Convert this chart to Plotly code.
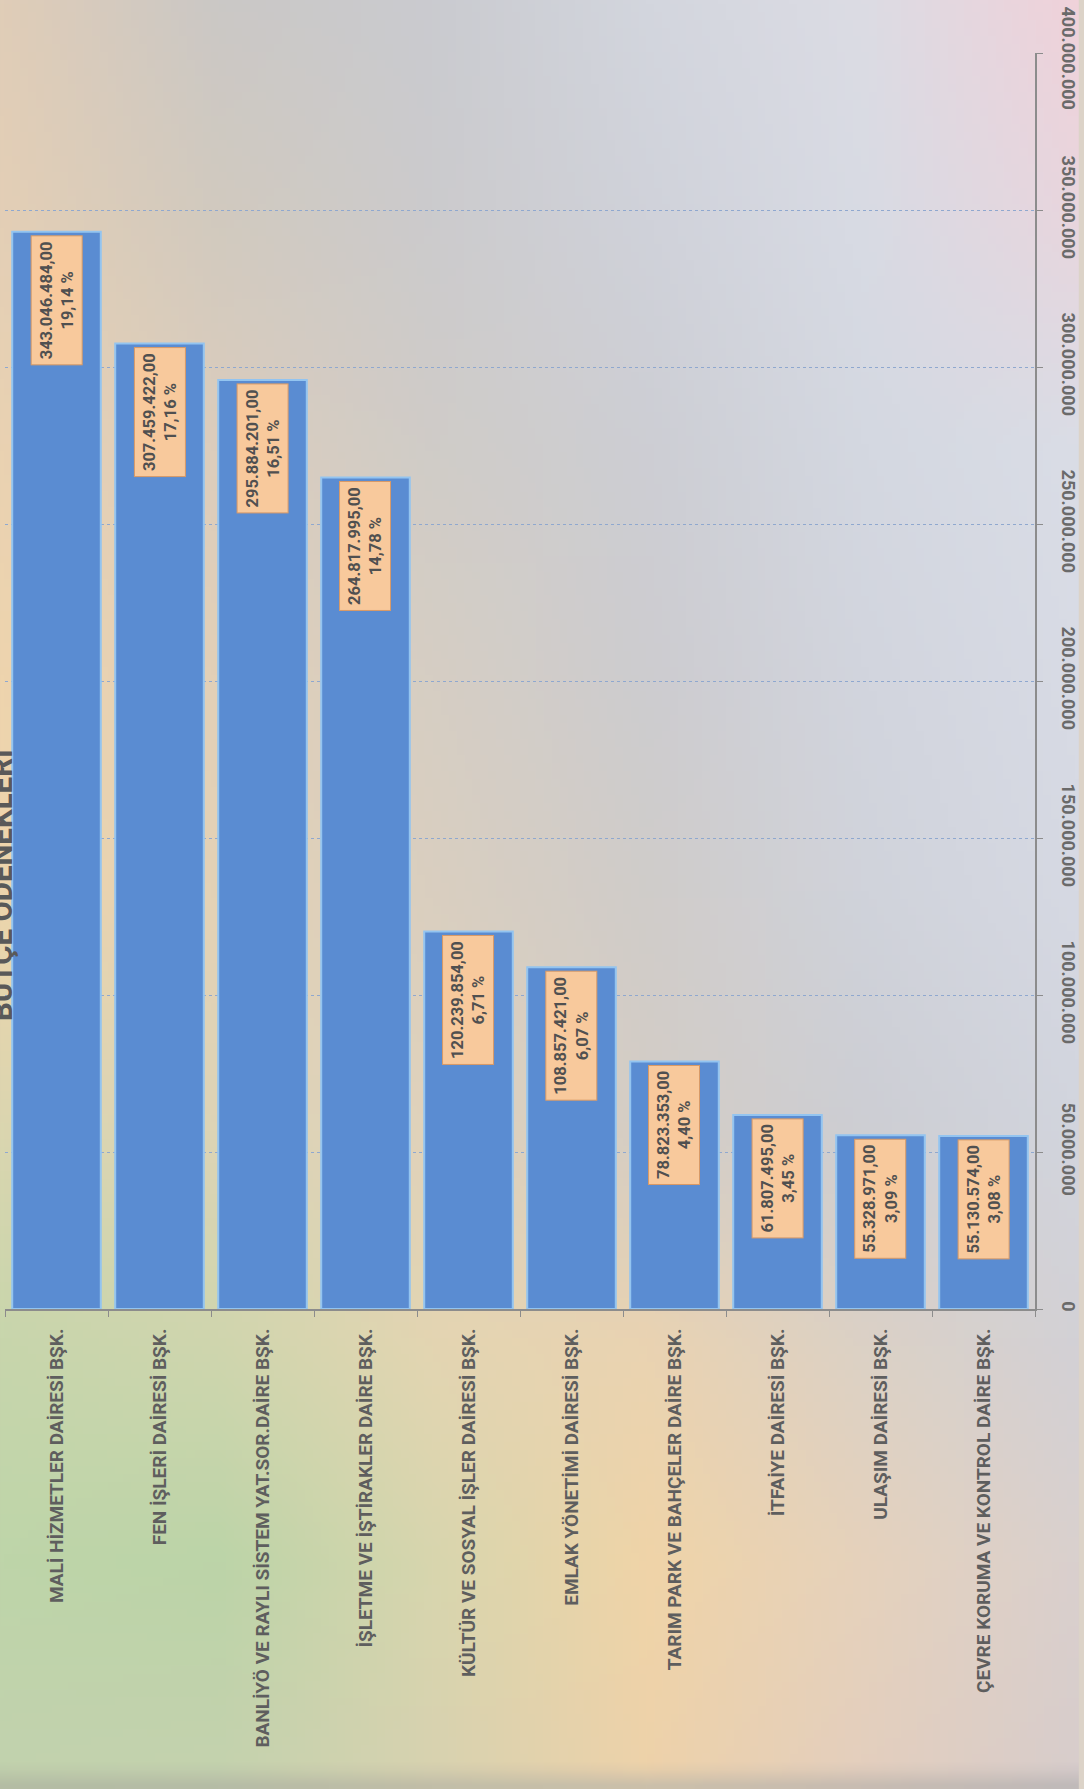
import base64, struct, zlib
import numpy as np
import plotly.graph_objects as go

categories = [
    "MALİ HİZMETLER DAİRESİ BŞK.",
    "FEN İŞLERİ DAİRESİ BŞK.",
    "BANLİYÖ VE RAYLI SİSTEM YAT.SOR.DAİRE BŞK.",
    "İŞLETME VE İŞTİRAKLER DAİRE BŞK.",
    "KÜLTÜR VE SOSYAL İŞLER DAİRESİ BŞK.",
    "EMLAK YÖNETİMİ DAİRESİ BŞK.",
    "TARIM PARK VE BAHÇELER DAİRE BŞK.",
    "İTFAİYE DAİRESİ BŞK.",
    "ULAŞIM DAİRESİ BŞK.",
    "ÇEVRE KORUMA VE KONTROL DAİRE BŞK.",
]
values = [343046484.00, 307459422.00, 295884201.00, 264817995.00, 120239854.00,
          108857421.00, 78823353.00, 61807495.00, 55328971.00, 55130574.00]
percents = [19.14, 17.16, 16.51, 14.78, 6.71, 6.07, 4.40, 3.45, 3.09, 3.08]
tick_values = [0, 50000000, 100000000, 150000000, 200000000, 250000000,
               300000000, 350000000, 400000000]
tick_labels = ["0", "50.000.000", "100.000.000", "150.000.000", "200.000.000",
               "250.000.000", "300.000.000", "350.000.000", "400.000.000"]
title_text = "BÜTÇE ÖDENEKLERİ"

# ---------- background gradient (style only) ----------
bg_grid = [
    ["E0CDB8", "CBC8C6", "CACBD0", "D3D6DE", "DCDCE4", "F0D2DA"],
    ["E4CFB6", "D2CABF", "CCCBCD", "D0D2DA", "D8DBE4", "E8D6DE"],
    ["EAD2B2", "DCCDBD", "D0CCC8", "CDCED4", "D4D8E1", "DADDE6"],
    ["EED4AE", "E2D0B8", "D6CEC4", "CDCCD0", "D2D5DE", "D8DBE5"],
    ["EED5AC", "E4D2B6", "DACFC0", "D0CCCA", "D0D3DB", "D6D9E3"],
    ["DCD6B0", "DED4B6", "E0D2BC", "D4CDC6", "CDCED4", "D2D5DE"],
    ["C8D6AC", "D0D6AE", "E4D5B2", "EAD3B2", "DCD1C6", "D3D1D6"],
    ["BED5A9", "BCD4A8", "D8D6AE", "F0D4A8", "E6D2BC", "DAD0CE"],
    ["C2D2AE", "C4D2AE", "D8D2B0", "EED2AA", "E4CFBE", "D8CDCC"],
    ["B4BCA4", "B6BCA6", "C2BEA8", "CCC0AA", "C8BCB2", "C0BABA"],
]
bg_rows_y = [0, 196, 392, 588, 784, 980, 1176, 1372, 1550, 1568]
bg_cols_x = [0, 190, 380, 570, 760, 950]


def hex2rgb(h):
    return [int(h[i:i + 2], 16) for i in (0, 2, 4)]


def make_bg_png(W=136, H=224):
    g = np.array([[hex2rgb(c) for c in row] for row in bg_grid], dtype=float)
    ys = np.linspace(0, 1568, H)
    xs = np.linspace(0, 950, W)
    tmp = np.zeros((len(bg_rows_y), W, 3))
    for r in range(len(bg_rows_y)):
        for ch in range(3):
            tmp[r, :, ch] = np.interp(xs, bg_cols_x, g[r, :, ch])
    out = np.zeros((H, W, 3))
    for x in range(W):
        for ch in range(3):
            out[:, x, ch] = np.interp(ys, bg_rows_y, tmp[:, x, ch])
    arr = np.clip(out, 0, 255).astype(np.uint8)
    raw = b"".join(b"\x00" + arr[y].tobytes() for y in range(H))

    def chunk(t, d):
        return struct.pack(">I", len(d)) + t + d + struct.pack(">I", zlib.crc32(t + d) & 0xFFFFFFFF)

    png = (b"\x89PNG\r\n\x1a\n" + chunk(b"IHDR", struct.pack(">IIBBBBB", W, H, 8, 2, 0, 0, 0))
           + chunk(b"IDAT", zlib.compress(raw, 9)) + chunk(b"IEND", b""))
    return "data:image/png;base64," + base64.b64encode(png).decode()


def tr_num(v):
    s = f"{v:,.2f}"
    return s.replace(",", "X").replace(".", ",").replace("X", ".")


def tr_pct(p):
    return f"{p:.2f}".replace(".", ",") + " %"


FIG_W, FIG_H = 1084, 1789
M_L, M_R, M_T, M_B = 5, 44, 53, 480
PW = FIG_W - M_L - M_R
PH = FIG_H - M_T - M_B
AXIS_FONT = dict(family="Roboto", size=18, color="#6A6A6A", weight="bold")

fig = go.Figure()
fig.add_trace(go.Bar(
    x=categories, y=values,
    marker=dict(color="#5A8CD2", line=dict(color="#93C4F0", width=2)),
    hoverinfo="x+y",
))

annotations = []
for c, v, p in zip(categories, values, percents):
    annotations.append(dict(
        x=c, y=v, xref="x", yref="y", xanchor="center", yanchor="top", yshift=-4,
        text=f"{tr_num(v)}<br>{tr_pct(p)}", textangle=-90, showarrow=False,
        bgcolor="#F8C99C", bordercolor="#D99A66", borderwidth=1, borderpad=5,
        font=dict(family="Roboto", size=16.5, color="#505050", weight="bold"), align="center",
    ))
# title, partly cut by the left edge as in the reference
annotations.append(dict(
    x=0, y=(FIG_H - M_B - 885) / PH, xref="paper", yref="paper", xanchor="center", yanchor="middle",
    xshift=-3, text=title_text, textangle=-90, showarrow=False,
    font=dict(family="Roboto", size=29.5, color="#595959", weight="bold"),
))
# top tick label, pushed down inside the page as in the reference
annotations.append(dict(
    x=1, y=tick_values[-1], xref="paper", yref="y", xanchor="center", yanchor="top",
    xshift=33, yshift=49, text=tick_labels[-1], textangle=90, showarrow=False,
    font=AXIS_FONT,
))

fig.update_layout(
    width=FIG_W, height=FIG_H,
    margin=dict(l=M_L, r=M_R, t=M_T, b=M_B),
    paper_bgcolor="#DCD3C8", plot_bgcolor="rgba(0,0,0,0)",
    showlegend=False, bargap=0.14, separators=",.",
    annotations=annotations,
    images=[dict(source=make_bg_png(), xref="paper", yref="paper",
                 x=-M_L / PW, y=1 + M_T / PH, sizex=FIG_W / PW, sizey=FIG_H / PH,
                 xanchor="left", yanchor="top", sizing="stretch", layer="below")],
    xaxis=dict(
        type="category", tickangle=-90, showgrid=False,
        showline=True, linecolor="#8C8C8C", linewidth=2,
        ticks="outside", tickson="boundaries", ticklen=6, tickcolor="#8C8C8C", tickwidth=1,
        ticklabelstandoff=10,
        tickfont=dict(family="Roboto", size=19, color="#5E5E5E", weight="bold"),
    ),
    yaxis=dict(
        side="right", range=[0, 400000000],
        tickvals=tick_values, ticktext=tick_labels[:-1] + [""],
        tickangle=90, showgrid=True, gridcolor="#8FA8CF", gridwidth=1, griddash="dot",
        showline=True, linecolor="#8C8C8C", linewidth=2,
        ticks="outside", ticklen=6, tickcolor="#8C8C8C", tickwidth=1,
        zeroline=False, ticklabelstandoff=12,
        tickfont=AXIS_FONT,
    ),
)

fig.write_html("out.html", config={"displayModeBar": False},
               post_script="document.body.style.margin='0';document.body.style.overflow='hidden';")
